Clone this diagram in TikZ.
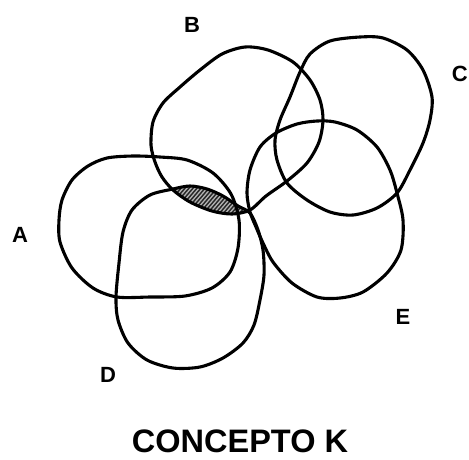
\documentclass[tikz,border=0pt]{standalone}
\usepackage{fontspec}
\setmainfont{Liberation Sans}
% outlines of the five regions (pixel grid, y downwards)
\newcommand\blobA{plot[smooth cycle] coordinates {(59,220) (62,200) (72,180) (88,166) (107,158) (133,156) (160,157) (187,160) (213,173) (231,194) (239,220) (238,248) (230,272) (212,288) (185,296) (150,297) (117,297) (93,288) (72,268) (60,242)}}
\newcommand\blobB{plot[smooth cycle] coordinates {(173,190) (162,177) (155,162) (151,145) (153,122) (163,103) (180,87) (200,70) (222,54) (245,47) (268,50) (293,62) (310,80) (320,100) (323,120) (319,142) (307,163) (287,181) (266,196) (250,210) (232,214) (212,211) (190,202)}}
\newcommand\blobC{plot[smooth cycle] coordinates {(360,37) (383,38) (407,50) (423,70) (432,97) (430,120) (423,143) (410,170) (397,193) (377,208) (353,215) (330,212) (307,200) (287,183) (277,160) (275,140) (280,120) (290,97) (300,72) (310,54) (330,41)}}
\newcommand\blobD{plot[smooth cycle] coordinates {(173,189) (190,186) (207,189) (223,196) (238,206) (250,213) (258,230) (263,250) (264,275) (260,300) (254,325) (243,343) (223,358) (200,367) (173,368) (147,360) (128,343) (118,320) (116,297) (119,263) (123,232) (132,210) (150,195)}}
\newcommand\blobE{plot[smooth cycle] coordinates {(250,212) (247,193) (250,170) (260,147) (276,133) (297,124) (317,121) (335,122) (357,130) (377,147) (390,170) (397,193) (403,220) (401,250) (387,273) (363,292) (340,298) (317,297) (292,283) (273,262) (263,243) (256,227)}}
\begin{document}
\begin{tikzpicture}[x=1pt,y=-1pt,
  blob/.style={line width=3.1pt,line join=round},
  lbl/.style={inner sep=0pt,font=\fontsize{22}{22}\selectfont\bfseries}]
  \useasboundingbox (0,0) rectangle (469,459);
  % hatched lens: B inside D
  \begin{scope}
    \clip \blobD;
    \fill[black!85] \blobB;
    \clip \blobB;
    \foreach \k in {-80,-76,...,120}
      \draw[white!70!black,line width=1.3pt] (160+\k,215) -- (190+\k,180);
  \end{scope}
  \draw[blob] \blobA;
  \draw[blob] \blobB;
  \draw[blob] \blobC;
  \draw[blob] \blobD;
  \draw[blob] \blobE;
  \node[lbl] (labA) at (20,235) {A};
  \node[lbl] (labB) at (192,25) {B};
  \node[lbl,anchor=east] (labC) at (468,74) {C};
  \node[lbl] (labD) at (108,375) {D};
  \node[lbl] (labE) at (403,317) {E};
  \node[inner sep=0pt,font=\fontsize{32.5}{32.5}\selectfont\bfseries] (title) at (240,441) {CONCEPTO K};
\end{tikzpicture}
\end{document}
